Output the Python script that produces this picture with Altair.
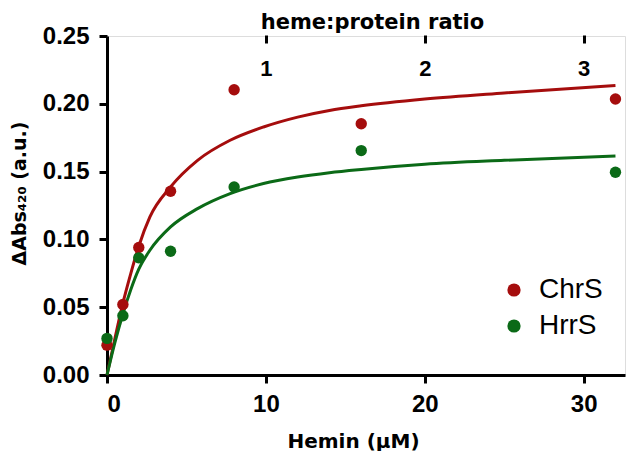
import altair as alt
import pandas as pd

# measured data (Hemin in µM)
hemin = [0, 1, 2, 4, 8, 16, 32]
chrs = [0.022, 0.052, 0.094, 0.1355, 0.2104, 0.1853, 0.2035]
hrrs = [0.027, 0.0437, 0.0864, 0.0913, 0.1387, 0.1655, 0.1495]

# fitted curves
fit_x = [0, 0.5, 1, 1.5, 2, 2.7, 4, 5.7, 7.75, 9.85, 12, 14, 16, 20, 25, 32]
chrs_fit = [0, 0.027, 0.053, 0.075, 0.095, 0.1166, 0.1387, 0.1583, 0.1731, 0.1829,
            0.1902, 0.1951, 0.1985, 0.2035, 0.2080, 0.2135]
hrrs_fit = [0, 0.024, 0.045, 0.063, 0.078, 0.092, 0.1092, 0.1227, 0.1338, 0.1412,
            0.1460, 0.1492, 0.1516, 0.1554, 0.1583, 0.1615]

series = ["ChrS", "HrrS"]
colors = ["#A50D0D", "#0B6A17"]
x_ticks = [0, 10, 20, 30]
y_ticks = [0, 0.05, 0.10, 0.15, 0.20, 0.25]
ratio_ticks = [1, 2, 3]
protein_uM = 10

pts = pd.DataFrame({
    "Hemin": hemin + hemin,
    "value": chrs + hrrs,
    "series": [series[0]] * len(hemin) + [series[1]] * len(hemin),
})
fit = pd.DataFrame({
    "Hemin": fit_x + fit_x,
    "value": chrs_fit + hrrs_fit,
    "series": [series[0]] * len(fit_x) + [series[1]] * len(fit_x),
})

FONT = "Liberation Sans"
WIDE = "DejaVu Sans"
color_scale = alt.Scale(domain=series, range=colors)
x_scale = alt.Scale(domain=[0, 32.6], nice=False, zero=False)
y_scale = alt.Scale(domain=[0, 0.25], nice=False)

lines = alt.Chart(fit).mark_line(strokeWidth=3, interpolate="monotone").encode(
    x=alt.X("Hemin:Q", scale=x_scale, axis=alt.Axis(
        orient="top", values=[r * protein_uM for r in ratio_ticks],
        labelExpr="format(datum.value / %d, 'd')" % protein_uM,
        title="heme:protein ratio", offset=-7, domain=False,
        tickSize=8, tickWidth=3, tickColor="black",
        labelFont=FONT, labelFontSize=22, labelFontWeight="bold", labelColor="black",
        labelBaseline="alphabetic", labelPadding=-40,
        titleFont=WIDE, titleFontSize=21, titleFontWeight="bold", titleColor="black",
        titleX=265, titleY=-15, titleBaseline="alphabetic", titleAlign="center",
        grid=False)),
    y=alt.Y("value:Q", scale=y_scale, axis=None),
    color=alt.Color("series:N", scale=color_scale, legend=None),
    detail="series:N",
)

points = alt.Chart(pts).mark_circle(size=130, opacity=1).encode(
    x=alt.X("Hemin:Q", scale=x_scale, axis=alt.Axis(
        orient="bottom", values=x_ticks, format="d", title="Hemin (µM)",
        domainWidth=3, domainColor="black",
        tickSize=8, tickWidth=3, tickColor="black",
        labelFont=FONT, labelFontSize=24, labelFontWeight="bold", labelColor="black",
        labelPadding=9,
        titleFont=WIDE, titleFontSize=20, titleFontWeight="bold", titleColor="black",
        titleX=246, titleY=72, titleBaseline="alphabetic", titleAlign="center",
        grid=False)),
    y=alt.Y("value:Q", scale=y_scale, axis=alt.Axis(
        values=y_ticks, format=".2f", title="ΔAbs₄₂₀ (a.u.)",
        domainWidth=3, domainColor="black",
        tickSize=8, tickWidth=3, tickColor="black",
        labelFont=FONT, labelFontSize=24, labelFontWeight="bold", labelColor="black",
        labelPadding=10,
        titleFont=WIDE, titleFontSize=19, titleFontWeight="bold", titleColor="black",
        titleX=-88, titleY=157, titleBaseline="middle", titleAlign="center", titleAngle=270,
        grid=False)),
    color=alt.Color("series:N", scale=color_scale, legend=alt.Legend(
        title=None, orient="none", legendX=393, legendY=240,
        symbolType="circle", symbolSize=175, symbolStrokeWidth=0,
        labelFont=FONT, labelFontSize=28, labelColor="black", labelOffset=11,
        rowPadding=8, padding=0)),
)

chart = alt.layer(lines, points).resolve_axis(
    x="independent", y="independent"
).resolve_legend(color="independent").properties(
    width=518, height=339,
    autosize=alt.AutoSizeParams(type="none"),
    padding={"left": 99, "top": 28, "right": 1, "bottom": 76},
).configure_view(stroke="black", strokeWidth=3).configure(background="white")

chart.save("out.html", embed_options={"renderer": "svg", "actions": False})
